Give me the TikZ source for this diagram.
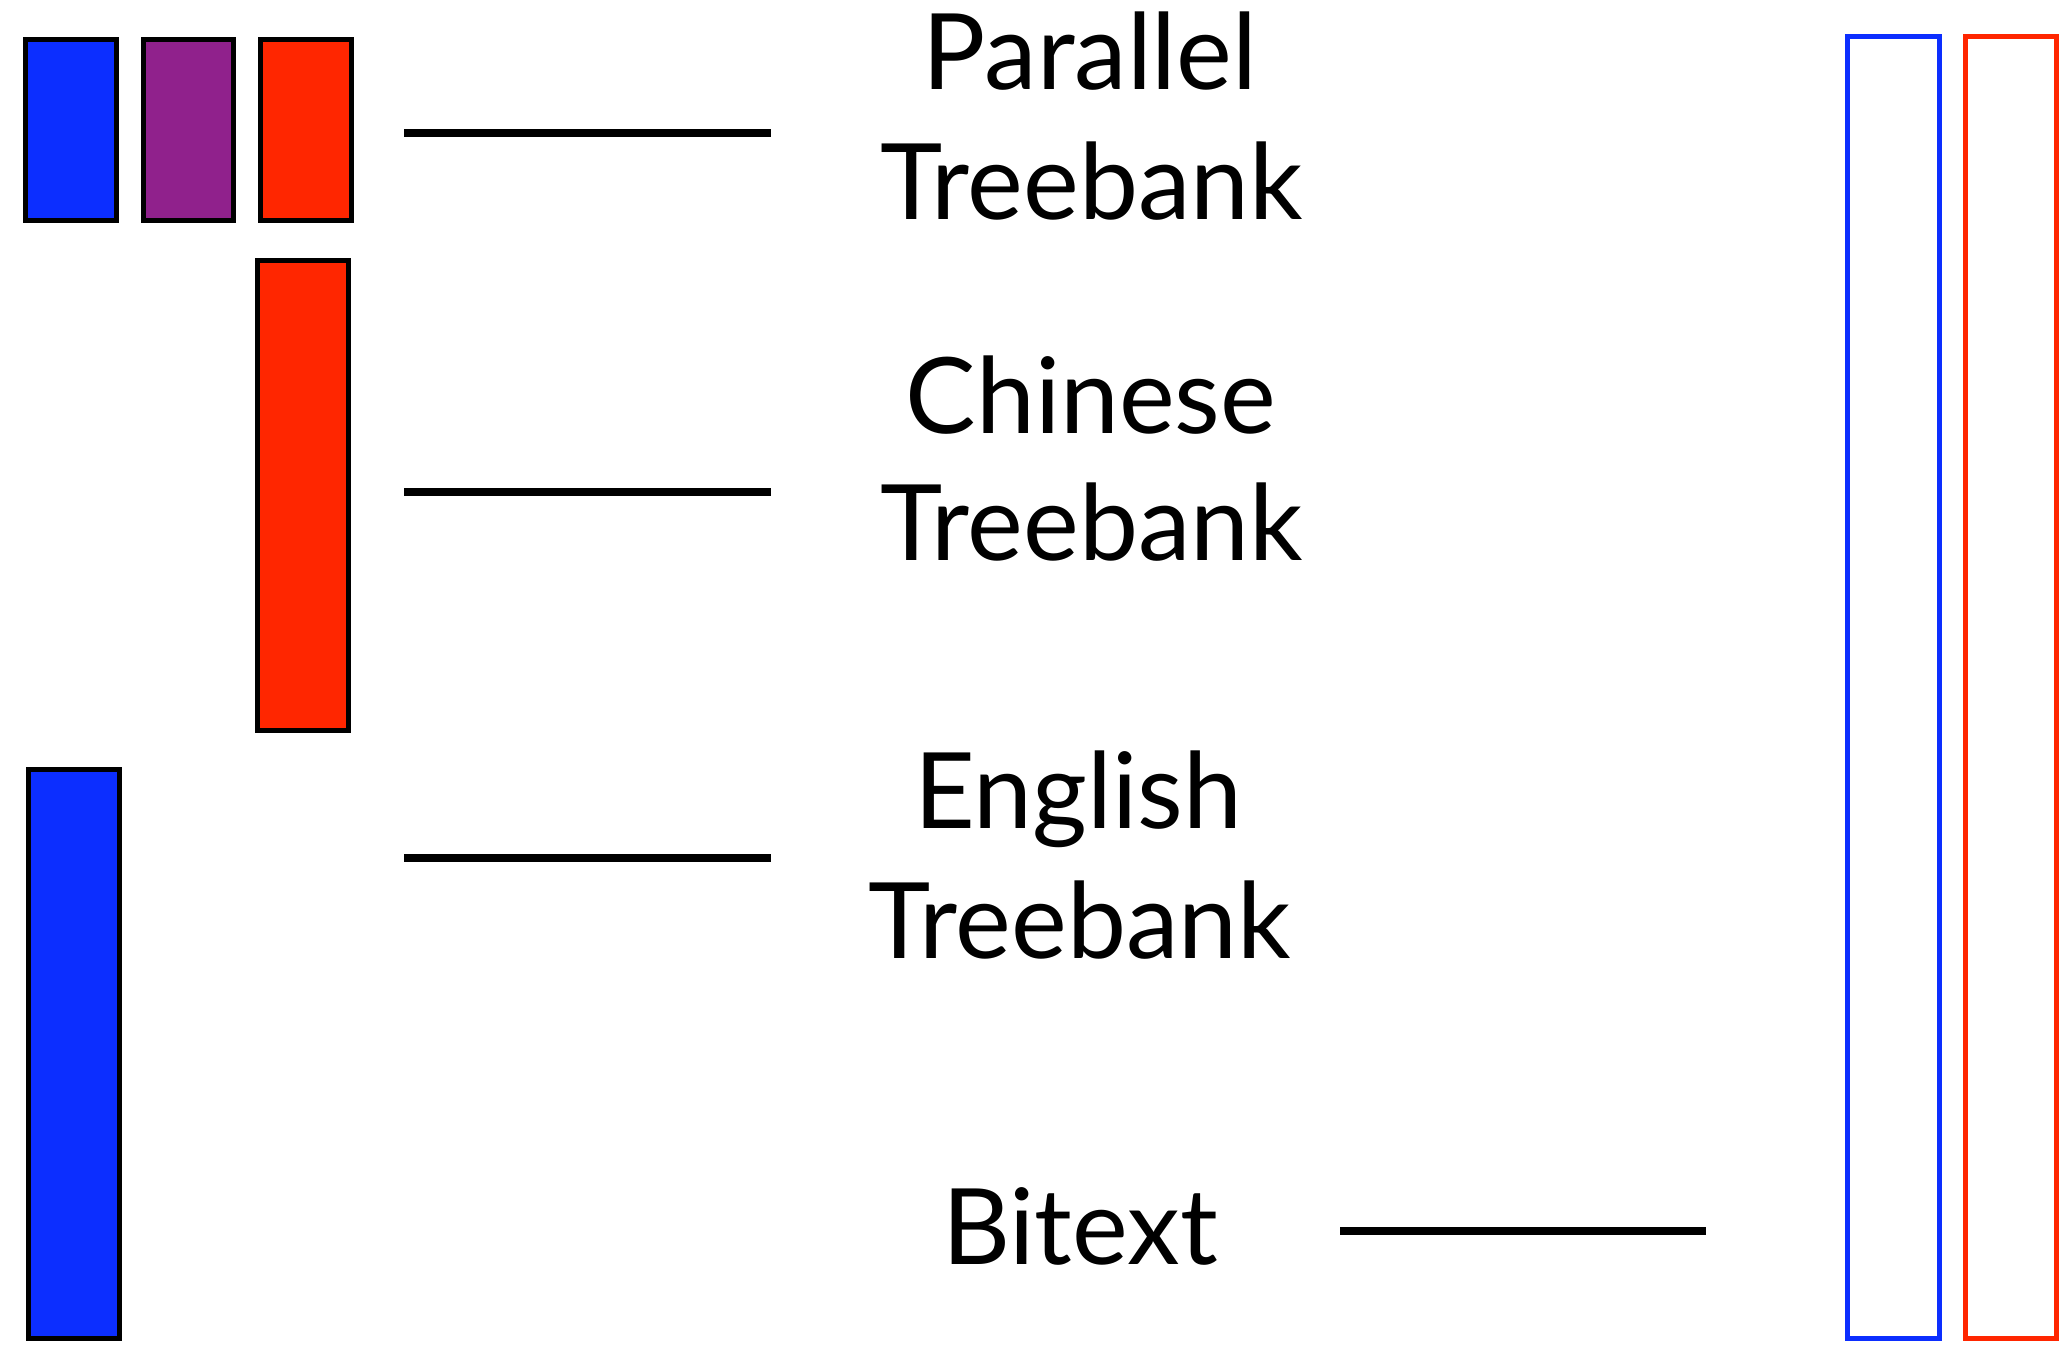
\documentclass[tikz,border=0pt]{standalone}
\usepackage{fontspec}
\setmainfont{Lato}
\definecolor{cblue}{RGB}{12,46,255}
\definecolor{cpurple}{RGB}{144,33,140}
\definecolor{cred}{RGB}{255,38,0}
\tikzset{
  bar/.style={draw=black, line width=1.42pt, inner sep=0pt, minimum width=0.91cm},
  hollow/.style={line width=1.42pt, inner sep=0pt, minimum width=0.91cm, fill=none},
  lbl/.style={anchor=base, inner sep=0pt, font=\fontsize{30}{36}\selectfont},
  rule/.style={line width=2.28pt, black}
}
\begin{document}
\begin{tikzpicture}[x=0.01cm, y=-0.01cm]
\useasboundingbox (0,0) rectangle (2064,1352);
% small bars (parallel treebank)
\node[bar, fill=cblue, minimum height=1.81cm] (pb) at (71,130) {};
\node[bar, fill=cpurple, minimum height=1.81cm, minimum width=0.90cm] (pp) at (188.5,130) {};
\node[bar, fill=cred, minimum height=1.81cm] (pr) at (306,130) {};
% chinese treebank bar
\node[bar, fill=cred, minimum height=4.70cm] (cb) at (303,495.5) {};
% english treebank bar
\node[bar, fill=cblue, minimum height=5.69cm] (eb) at (74,1054) {};
% bitext hollow bars
\node[hollow, draw=cblue, minimum height=13.02cm, minimum width=0.92cm] (hb) at (1893.5,687.5) {};
\node[hollow, draw=cred, minimum height=13.02cm] (hr) at (2011,687.5) {};
% rules
\coordinate (l1a) at (404,133); \coordinate (l1b) at (771,133);
\coordinate (l2a) at (404,492); \coordinate (l2b) at (771,492);
\coordinate (l3a) at (404,858); \coordinate (l3b) at (771,858);
\coordinate (l4a) at (1340,1231); \coordinate (l4b) at (1706,1231);
\draw[rule] (l1a) -- (l1b);
\draw[rule] (l2a) -- (l2b);
\draw[rule] (l3a) -- (l3b);
\draw[rule] (l4a) -- (l4b);
% labels
\node[lbl] (t1a) at (1090,90) {Parallel};
\node[lbl] (t1b) at (1092,220) {Treebank};
\node[lbl] (t2a) at (1091,433) {Chinese};
\node[lbl] (t2b) at (1092,560) {Treebank};
\node[lbl] (t3a) at (1078,828) {English};
\node[lbl] (t3b) at (1080,958) {Treebank};
\node[lbl] (t4) at (1080,1264) {Bitext};
\end{tikzpicture}
\end{document}
